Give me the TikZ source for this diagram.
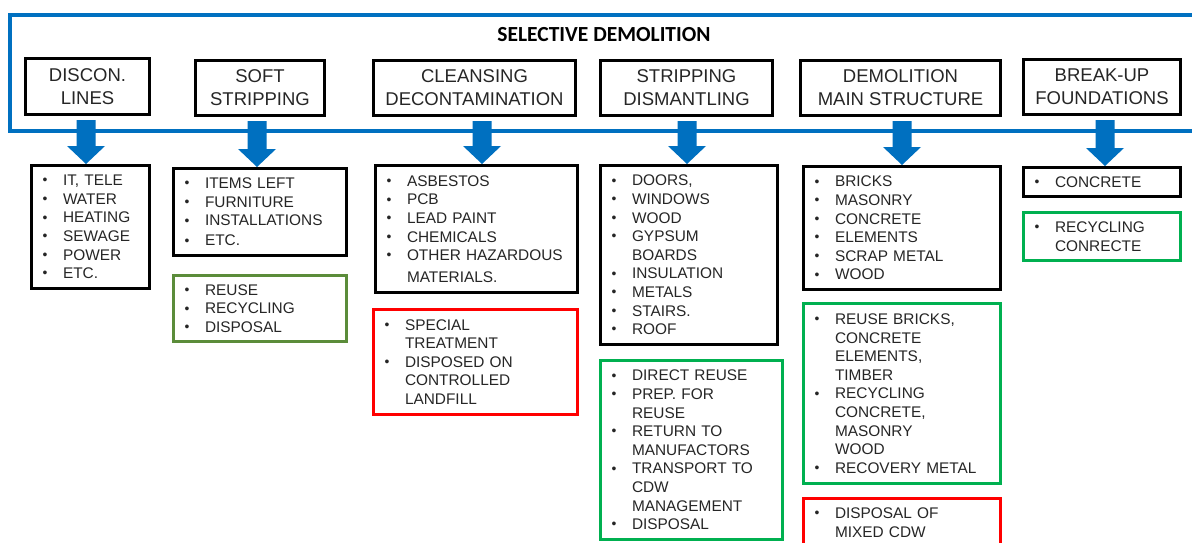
\documentclass[tikz,border=0pt]{standalone}
\usepackage{fontspec}
\usepackage{graphicx}
\setmainfont{Liberation Sans}
\newfontfamily\titlefont{Carlito}
\usetikzlibrary{calc}
\definecolor{frameblue}{HTML}{0070C0}
\definecolor{okgreen}{HTML}{00B050}
\definecolor{olivegreen}{HTML}{5B8C3A}
\definecolor{badred}{HTML}{FF0000}
\definecolor{ink}{HTML}{262626}
\newcommand\bu[1]{\hspace*{11pt}\makebox[20.5pt][l]{\raisebox{0.8pt}{\scalebox{0.9}{\textbullet}}}#1}
\newcommand\co[1]{\hspace*{31.5pt}#1}
\newcommand\fatarrow[2]{\fill[frameblue] let \p1=(#1), \p2=(#1 |- #2.north) in
  (\x1-9.5pt,\y1) -- (\x1+9.5pt,\y1) -- (\x1+9.5pt,\y2+18pt) -- (\x1+19pt,\y2+18pt)
  -- (\x1,\y2) -- (\x1-19pt,\y2+18pt) -- (\x1-9.5pt,\y2+18pt) -- cycle;}
\begin{document}
\begin{tikzpicture}[x=1pt,y=-1pt,
  hdr/.style={draw=black,line width=3pt,fill=white,text=ink,align=center,inner sep=0pt,
    font=\fontsize{18.5}{23}\selectfont},
  lst/.style={draw=black,line width=3pt,fill=white,text=ink,align=left,inner xsep=0pt,
    inner ysep=0pt,anchor=north west,font=\fontsize{15.4}{18.6}\selectfont},
  goodbox/.style={lst,draw=okgreen},
  badbox/.style={lst,draw=badred}]
\useasboundingbox (0,0) rectangle (1192,543);
\clip (0,0) rectangle (1192,543);
\fill[white] (0,0) rectangle (1192,543);
% frame
\draw[frameblue,line width=4pt] (1194,15) -- (10,15) -- (10,131) -- (1194,131);
\node[text=black,font=\titlefont\bfseries\fontsize{21.5}{25}\selectfont] (title) at (604,35) {SELECTIVE DEMOLITION};
% headers
\node[hdr,minimum width=124pt,minimum height=56pt] (h1) at (87.5,86.5) {DISCON.\\LINES};
\node[hdr,minimum width=129pt,minimum height=55pt] (h2) at (260,88) {SOFT\\STRIPPING};
\node[hdr,minimum width=202pt,minimum height=55pt] (h3) at (474.5,88) {CLEANSING\\DECONTAMINATION};
\node[hdr,minimum width=172pt,minimum height=55pt] (h4) at (686.5,88) {STRIPPING\\DISMANTLING};
\node[hdr,minimum width=200pt,minimum height=55pt] (h5) at (900.5,88) {DEMOLITION\\MAIN STRUCTURE};
\node[hdr,minimum width=157pt,minimum height=55pt] (h6) at (1102,87) {BREAK-UP\\FOUNDATIONS};
% item boxes
\node[lst,text width=118pt,minimum height=123pt] (i1) at (30,164)
  {\bu{IT, TELE}\\\bu{WATER}\\\bu{HEATING}\\\bu{SEWAGE}\\\bu{POWER}\\\bu{ETC.}};
\node[lst,text width=173pt,minimum height=87pt] (i2) at (172,167)
  {\bu{ITEMS LEFT}\\\bu{FURNITURE}\\\bu{INSTALLATIONS}\\[1.5pt]\bu{ETC.}};
\node[lst,draw=olivegreen,text width=173pt,minimum height=66pt] (g2) at (172,274)
  {\bu{REUSE}\\\bu{RECYCLING}\\\bu{DISPOSAL}};
\node[lst,text width=202pt,minimum height=127pt] (i3) at (374,164)
  {\bu{ASBESTOS}\\\bu{PCB}\\\bu{LEAD PAINT}\\\bu{CHEMICALS}\\\bu{OTHER HAZARDOUS}\\[3pt]\co{MATERIALS.}};
\node[badbox,text width=204pt,minimum height=105pt] (r3) at (372,308)
  {\bu{SPECIAL}\\\co{TREATMENT}\\\bu{DISPOSED ON}\\\co{CONTROLLED}\\\co{LANDFILL}};
\node[lst,text width=177pt,minimum height=179pt] (i4) at (599,164)
  {\bu{DOORS,}\\\bu{WINDOWS}\\\bu{WOOD}\\\bu{GYPSUM}\\\co{BOARDS}\\\bu{INSULATION}\\\bu{METALS}\\\bu{STAIRS.}\\\bu{ROOF}};
\node[goodbox,text width=182pt,minimum height=179pt] (g4) at (599,359)
  {\bu{DIRECT REUSE}\\\bu{PREP. FOR}\\\co{REUSE}\\\bu{RETURN TO}\\\co{MANUFACTORS}\\\bu{TRANSPORT TO}\\\co{CDW}\\\co{MANAGEMENT}\\\bu{DISPOSAL}};
\node[lst,text width=197pt,minimum height=123pt] (i5) at (802,165)
  {\bu{BRICKS}\\\bu{MASONRY}\\\bu{CONCRETE}\\\bu{ELEMENTS}\\\bu{SCRAP METAL}\\\bu{WOOD}};
\node[goodbox,text width=197pt,minimum height=180pt] (g5) at (802,302)
  {\bu{REUSE BRICKS,}\\\co{CONCRETE}\\\co{ELEMENTS,}\\\co{TIMBER}\\\bu{RECYCLING}\\\co{CONCRETE,}\\\co{MASONRY}\\\co{WOOD}\\\bu{RECOVERY METAL}};
\node[badbox,text width=197pt,inner ysep=9.5pt] (r5) at (802,497)
  {\bu{DISPOSAL OF}\\\co{MIXED CDW}};
\node[lst,text width=157pt,minimum height=29pt] (i6) at (1022,166)
  {\bu{CONCRETE}};
\node[goodbox,text width=157pt,minimum height=48pt] (g6) at (1022,211)
  {\bu{RECYCLING}\\\co{CONRECTE}};
% arrows
\coordinate (a1) at ([xshift=-1.5pt,yshift=-4pt]h1.south);
\coordinate (a2) at ([xshift=-3pt,yshift=-4pt]h2.south);
\coordinate (a3) at ([xshift=7.5pt,yshift=-4pt]h3.south);
\coordinate (a4) at ([xshift=0.5pt,yshift=-4pt]h4.south);
\coordinate (a5) at ([xshift=1.5pt,yshift=-4pt]h5.south);
\coordinate (a6) at ([xshift=3pt,yshift=-4pt]h6.south);
\fatarrow{a1}{i1}
\fatarrow{a2}{i2}
\fatarrow{a3}{i3}
\fatarrow{a4}{i4}
\fatarrow{a5}{i5}
\fatarrow{a6}{i6}
\end{tikzpicture}
\end{document}
